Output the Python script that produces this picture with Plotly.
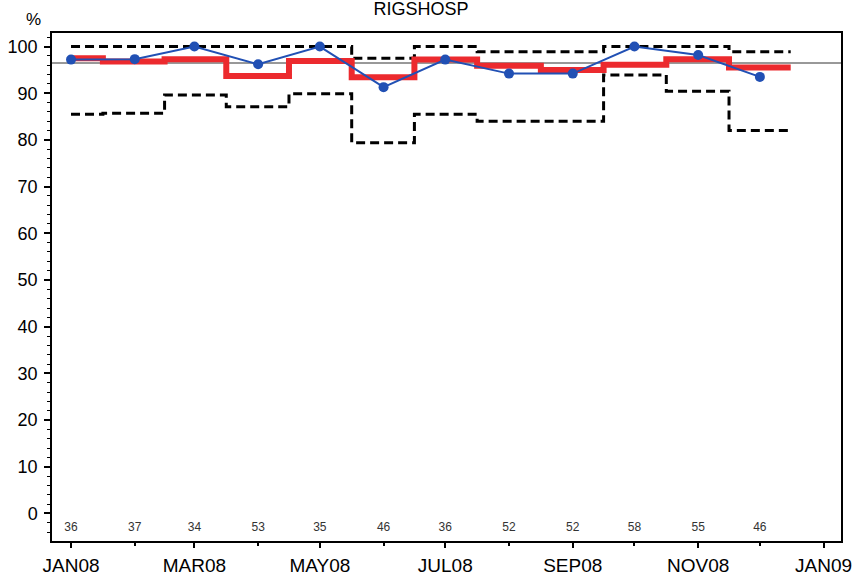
import pandas as pd
import plotly.graph_objects as go

# ---------------- data ----------------
MONTHS = ["2008-01-01", "2008-02-01", "2008-03-01", "2008-04-01", "2008-05-01", "2008-06-01",
          "2008-07-01", "2008-08-01", "2008-09-01", "2008-10-01", "2008-11-01", "2008-12-01"]
COUNTS = [36, 37, 34, 53, 35, 46, 36, 52, 52, 58, 55, 46]
OBSERVED = [97.2, 97.3, 100.0, 96.2, 100.0, 91.3, 97.2, 94.2, 94.2, 100.0, 98.2, 93.5]
EXPECTED = [97.5, 96.8, 97.3, 93.7, 96.9, 93.4, 97.2, 95.9, 95.0, 96.1, 97.3, 95.5]
UPPER = [100.0, 100.0, 100.0, 100.0, 100.0, 97.5, 100.0, 98.9, 98.9, 100.0, 100.0, 98.9]
LOWER = [85.5, 85.7, 89.6, 87.1, 89.9, 79.4, 85.5, 84.0, 84.0, 93.9, 90.4, 82.0]

X_TICK_VALS = ["2008-01-01", "2008-03-01", "2008-05-01", "2008-07-01",
               "2008-09-01", "2008-11-01", "2009-01-01"]
X_TICK_TEXT = ["JAN08", "MAR08", "MAY08", "JUL08", "SEP08", "NOV08", "JAN09"]
X_MINOR_TICKS = MONTHS + ["2009-01-01"]
Y_TICK_VALS = [0, 10, 20, 30, 40, 50, 60, 70, 80, 90, 100]

TITLE = "RIGSHOSP"
Y_UNIT = "%"
COUNT_LABEL_Y = -3.2

# ---------------- derived ----------------
dates = pd.to_datetime(pd.Series(MONTHS))
starts = dates.iloc[:-1].reset_index(drop=True)
ends = dates.iloc[1:].reset_index(drop=True)
mids = starts + (ends - starts) / 2
last_edge = dates.iloc[-1] + (dates.iloc[-1] - dates.iloc[-2]) / 2
edges = [dates.iloc[0]] + list(mids) + [last_edge]


def step_y(vals):
    return list(vals) + [vals[-1]]


overall_mean = sum(p * n for p, n in zip(OBSERVED, COUNTS)) / sum(COUNTS)

FONT = "Liberation Sans, Arial, Helvetica, sans-serif"
BLUE = "#2150b4"
RED = "#ec2a2e"

fig = go.Figure()

# overall mean line
fig.add_shape(type="line", xref="paper", x0=0, x1=1, yref="y", y0=overall_mean, y1=overall_mean,
              line=dict(color="#333333", width=1), layer="below")

# control limits
for vals in (UPPER, LOWER):
    fig.add_trace(go.Scatter(x=edges, y=step_y(vals), mode="lines", line_shape="hv",
                             line=dict(color="black", width=3, dash="9px,5px"),
                             showlegend=False, hoverinfo="skip"))

# expected
fig.add_trace(go.Scatter(x=edges, y=step_y(EXPECTED), mode="lines", line_shape="hv",
                         line=dict(color=RED, width=6), showlegend=False, hoverinfo="skip"))

# observed
fig.add_trace(go.Scatter(x=dates, y=OBSERVED, mode="lines+markers",
                         line=dict(color=BLUE, width=2),
                         marker=dict(color=BLUE, size=10), showlegend=False))

# counts
fig.add_trace(go.Scatter(x=dates, y=[COUNT_LABEL_Y] * len(COUNTS), mode="text",
                         text=[str(c) for c in COUNTS],
                         textfont=dict(family=FONT, size=12, color="#333333"),
                         showlegend=False, hoverinfo="skip"))

fig.add_annotation(text=Y_UNIT, xref="paper", yref="paper", x=-0.024, y=1.0256,
                   xanchor="center", yanchor="middle", showarrow=False,
                   font=dict(family=FONT, size=17, color="black"))

fig.update_layout(
    width=853, height=577,
    margin=dict(l=52, r=12, t=33, b=36, autoexpand=False),
    paper_bgcolor="white", plot_bgcolor="white",
    font=dict(family=FONT, color="black"),
    title=dict(text=TITLE, xref="container", yref="container", x=0.4936, y=0.985,
               xanchor="center", yanchor="middle", font=dict(family=FONT, size=18, color="black")),
)

fig.update_xaxes(
    type="date", range=["2007-12-22 18:00", "2009-01-09 11:00"], automargin=False,
    tickmode="array", tickvals=X_TICK_VALS, ticktext=X_TICK_TEXT,
    ticks="outside", ticklen=5, tickwidth=1.5, tickcolor="black",
    tickfont=dict(family=FONT, size=19, color="black"), ticklabelstandoff=1,
    minor=dict(tickmode="array", tickvals=X_MINOR_TICKS, ticks="outside", ticklen=3,
               tickwidth=1.5, tickcolor="black", showgrid=False),
    showline=True, linecolor="black", linewidth=1.5, mirror=True,
    showgrid=False, zeroline=False,
)
fig.update_yaxes(
    range=[-5.9, 102.9], automargin=False,
    tickmode="array", tickvals=Y_TICK_VALS,
    ticks="outside", ticklen=6, tickwidth=1.5, tickcolor="black",
    tickfont=dict(family=FONT, size=18, color="black"), ticklabelstandoff=3,
    minor=dict(dtick=2, tick0=0, ticks="outside", ticklen=3, tickwidth=1.2,
               tickcolor="black", showgrid=False),
    showline=True, linecolor="black", linewidth=1.5, mirror=True,
    showgrid=False, zeroline=False,
)

fig.write_html("out.html", config={"displayModeBar": False},
               post_script="document.body.style.margin='0';document.body.style.overflow='hidden';")
